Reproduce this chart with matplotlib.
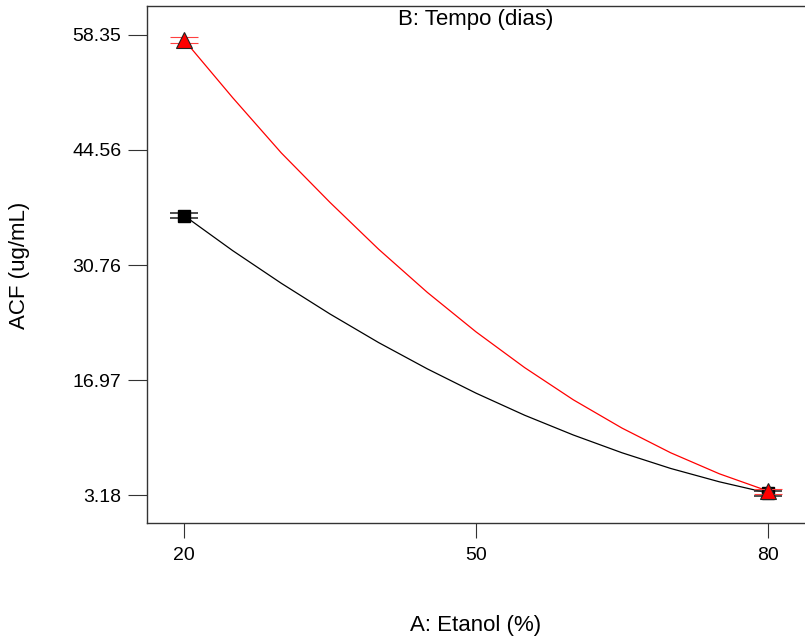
import numpy as np
import matplotlib
matplotlib.use("Agg")
import matplotlib.pyplot as plt

plt.rcParams['font.family'] = ['Liberation Sans', 'DejaVu Sans']

# Values
etanol = [20, 25, 30, 35, 40, 45, 50, 55, 60, 65, 70, 75, 80]
acf_red = [57.77, 50.83, 44.2, 38.27, 32.65, 27.48, 22.75, 18.46, 14.6, 11.21, 8.25, 5.73, 3.66]
acf_black = [36.70, 32.49, 28.57, 24.89, 21.46, 18.31, 15.4, 12.75, 10.38, 8.25, 6.37, 4.77, 3.42]

design_x = [20, 80]
red_pts = [57.77, 3.66]
black_pts = [36.70, 3.42]
err = [0.35, 0.3]

yticks = [3.18, 16.97, 30.76, 44.56, 58.35]
xticks = [20, 50, 80]

fig = plt.figure(figsize=(8.05, 6.37), dpi=100)
ax = fig.add_axes([147 / 805, 114 / 637, 1 - 147 / 805, 517 / 637])

ax.plot(etanol, acf_black, color="black", lw=0.9, zorder=2)
ax.plot(etanol, acf_red, color="red", lw=0.9, zorder=2)

ax.errorbar(design_x, black_pts, yerr=err, fmt="s", color="black", ms=9,
            mfc="black", mec="black", ecolor="#303030", elinewidth=0,
            capsize=10, capthick=1.2, zorder=3)
ax.errorbar(design_x, red_pts, yerr=err, fmt="^", color="red", ms=11,
            mfc="red", mec="#222222", mew=0.8, ecolor="#ff4040", elinewidth=0,
            capsize=10, capthick=1.2, zorder=4)

ax.set_xlim(16.2, 83.8)
ax.set_ylim(-0.17, 61.82)
ax.set_xticks(xticks)
ax.set_yticks(yticks)
ax.set_yticklabels([f"{v:.2f}" for v in yticks])

for s in ["top", "left", "bottom"]:
    ax.spines[s].set_color("#333333")
    ax.spines[s].set_linewidth(1.0)
ax.spines["right"].set_visible(False)

ax.tick_params(axis="x", direction="out", length=11, pad=6, labelsize=14,
               color="#333333")
ax.tick_params(axis="y", direction="out", length=13.5, pad=5, labelsize=14,
               color="#333333")

fig.text(476 / 805, 1 - 625 / 637, "A: Etanol (%)", ha="center", va="center",
         fontsize=16)
fig.text(19 / 805, 1 - 265 / 637, "ACF (ug/mL)", ha="center", va="center",
         rotation=90, fontsize=16)
fig.text(476 / 805, 1 - 19 / 637, "B: Tempo (dias)", ha="center", va="center",
         fontsize=16)

fig.savefig("out.png", dpi=100)
